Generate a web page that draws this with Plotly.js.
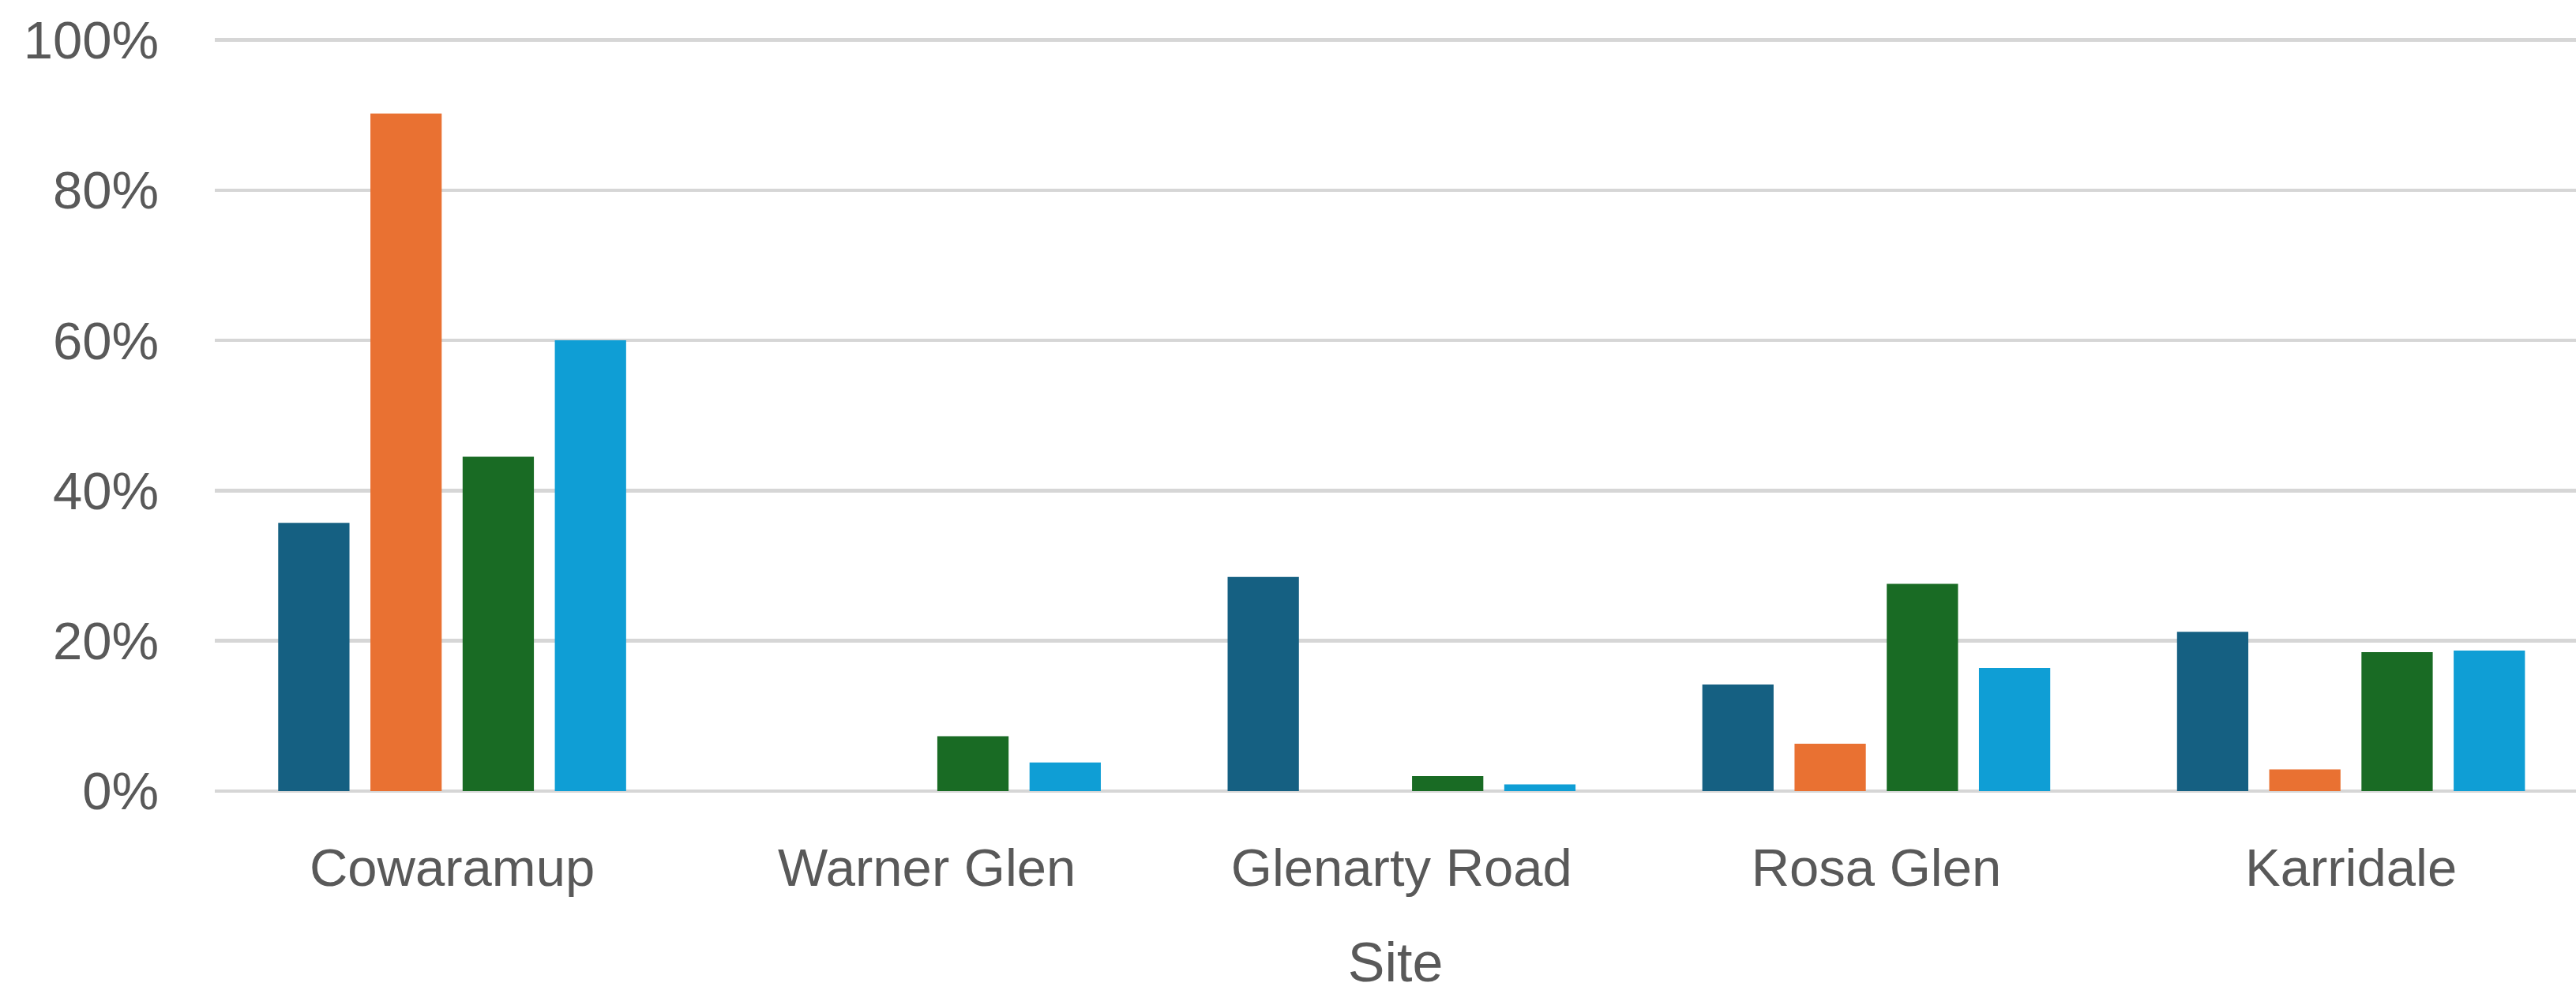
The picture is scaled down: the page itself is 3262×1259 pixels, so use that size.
<!DOCTYPE html>
<html>
<head>
<meta charset="utf-8">
<script src="https://cdn.plot.ly/plotly-3.0.1.min.js"></script>
<style>
html,body{margin:0;padding:0;background:#fff;}
#chart{width:3262px;height:1259px;}
</style>
</head>
<body>
<div id="chart"></div>
<script>
const sites = ["Cowaramup", "Warner Glen", "Glenarty Road", "Rosa Glen", "Karridale"];
const series1 = [0.357, 0, 0.285, 0.142, 0.212];
const series2 = [0.902, 0, 0, 0.063, 0.029];
const series3 = [0.445, 0.073, 0.020, 0.276, 0.185];
const series4 = [0.600, 0.038, 0.009, 0.164, 0.187];
const seriesNames = ["Series 1", "Series 2", "Series 3", "Series 4"];
const seriesColors = ["#156082", "#E97132", "#196B24", "#0F9ED5"];
const yTicks = [0, 0.2, 0.4, 0.6, 0.8, 1.0];
const yTickLabels = ["0%", "20%", "40%", "60%", "80%", "100%"];

const allSeries = [series1, series2, series3, series4];
const traces = allSeries.map((vals, i) => ({
  type: "bar",
  x: sites,
  y: vals,
  name: seriesNames[i],
  marker: {color: seriesColors[i], line: {width: 0}},
  hoverinfo: "skip"
}));

const font = "Liberation Sans, Arial, sans-serif";
const layout = {
  width: 3262,
  height: 1259,
  margin: {l: 272, r: 0, t: 41, b: 257, pad: 0},
  paper_bgcolor: "#ffffff",
  plot_bgcolor: "#ffffff",
  showlegend: false,
  barmode: "group",
  bargap: 0.223,
  bargroupgap: 0.227,
  font: {family: font, color: "#595959", size: 67},
  xaxis: {
    type: "category",
    range: [-0.5, 4.474],
    showgrid: false,
    showline: false,
    zeroline: false,
    ticks: "",
    ticklabelstandoff: 52,
    tickfont: {family: font, size: 67, color: "#595959"},
    title: {text: "Site", font: {family: font, size: 70, color: "#595959"}, standoff: 58}
  },
  yaxis: {
    range: [0, 1.01],
    tickvals: yTicks,
    ticktext: yTickLabels,
    showgrid: true,
    gridcolor: "#d6d6d6",
    gridwidth: 4.5,
    zeroline: true,
    zerolinecolor: "#d6d6d6",
    zerolinewidth: 4.5,
    showline: false,
    ticks: "",
    ticklabelstandoff: 70,
    tickfont: {family: font, size: 67, color: "#595959"}
  }
};

Plotly.newPlot("chart", traces, layout, {displayModeBar: false, staticPlot: true});
</script>
</body>
</html>
